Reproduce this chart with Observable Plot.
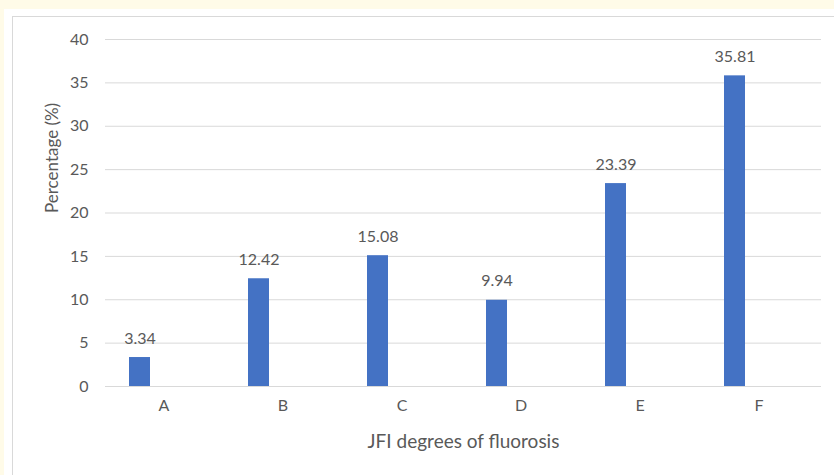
<!DOCTYPE html>
<html>
<head>
<meta charset="utf-8">
<script src="https://cdn.jsdelivr.net/npm/d3@7"></script>
<script src="https://cdn.jsdelivr.net/npm/@observablehq/plot@0.6"></script>
<style>
  html, body { margin: 0; padding: 0; }
  body { width: 834px; height: 475px; background: #fffbe8; position: relative; overflow: hidden; font-family: Lato, "Open Sans", sans-serif; }
  #paper { position: absolute; left: 4px; top: 9px; right: 0; bottom: 0; background: #ffffff; }
  #box { position: absolute; left: 12px; top: 16px; right: -10px; bottom: -10px; border-left: 1px solid #d9d9d9; border-top: 1px solid #d9d9d9; }
  #chart { position: absolute; left: 0; top: 0; }
</style>
</head>
<body>
<div id="paper"></div>
<div id="box"></div>
<div id="chart"></div>
<script>
// JFI degrees of fluorosis and share of cases in each
const degrees = ["A", "B", "C", "D", "E", "F"];
const percentages = [3.34, 12.42, 15.08, 9.94, 23.39, 35.81];
const yTicks = [0, 5, 10, 15, 20, 25, 30, 35, 40];

const rows = degrees.map((d, i) => ({degree: d, pct: percentages[i]}));

const textColor = "#595959";
const gridColor = "#d9d9d9";

const chart = Plot.plot({
  width: 834,
  height: 475,
  marginLeft: 105,
  marginRight: 13,
  marginTop: 39,
  marginBottom: 89,
  style: {background: "transparent", fontFamily: "Lato, 'Open Sans', sans-serif", color: textColor, overflow: "visible"},
  x: {type: "band", domain: degrees, padding: 0, label: null},
  y: {domain: [0, 40], label: null},
  marks: [
    Plot.gridY(yTicks, {stroke: gridColor, strokeOpacity: 1, strokeWidth: 1}),
    Plot.barY(rows, {x: "degree", y: "pct", fill: "#4472c4", insetLeft: 23, insetRight: 75}),
    Plot.ruleY([0], {stroke: gridColor, strokeWidth: 1}),
    Plot.text(rows, {x: "degree", y: "pct", text: d => d.pct.toFixed(2), dx: -26, dy: -14, lineAnchor: "bottom", fill: textColor, fontSize: 16}),
    Plot.axisY({ticks: yTicks, tickSize: 0, tickPadding: 17, fontSize: 16, fill: textColor, label: null}),
    Plot.axisX({tickSize: 0, tickPadding: 13, fontSize: 16, fill: textColor, label: null, dx: -2}),
    Plot.text(["Percentage (%)"], {frameAnchor: "left", dx: -53, rotate: -90, fontSize: 17, fill: textColor, lineAnchor: "middle"}),
    Plot.text(["JFI degrees of fluorosis"], {frameAnchor: "bottom", dy: 55, fontSize: 19, fill: textColor, lineAnchor: "middle"})
  ]
});
document.getElementById("chart").appendChild(chart);
</script>
</body>
</html>
